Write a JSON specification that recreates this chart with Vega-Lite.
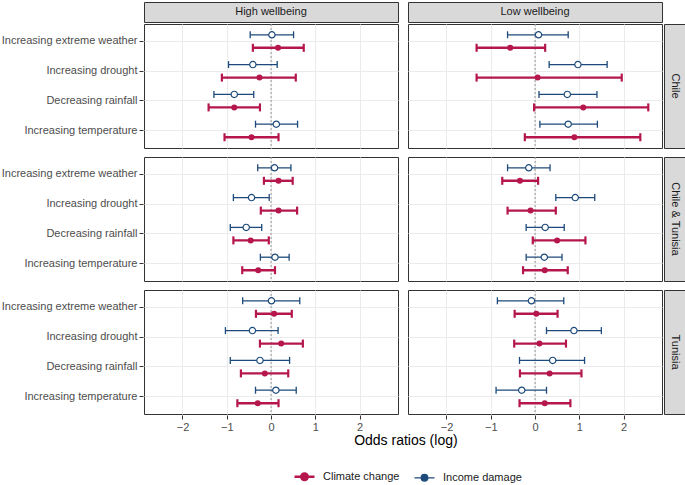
{
  "$schema": "https://vega.github.io/schema/vega-lite/v6.json",
  "padding": {"left": 1, "top": 1, "right": 2, "bottom": 4},
  "background": "white",
  "config": {
    "font": "Liberation Sans",
    "view": {"stroke": "#333333", "strokeWidth": 1},
    "axis": {
      "labelFont": "Liberation Sans",
      "labelFontSize": 11,
      "labelColor": "#4D4D4D",
      "tickColor": "#333333",
      "tickSize": 4,
      "labelPadding": 2,
      "domain": false,
      "gridColor": "#EBEBEB",
      "gridWidth": 1
    }
  },
  "datasets": {
    "est": [
      {"wellbeing": "High wellbeing", "country": "Chile", "measure": "Increasing extreme weather", "series": "Income damage", "est": 0.02, "lo": -0.47, "hi": 0.51},
      {"wellbeing": "High wellbeing", "country": "Chile", "measure": "Increasing extreme weather", "series": "Climate change", "est": 0.16, "lo": -0.41, "hi": 0.74},
      {"wellbeing": "High wellbeing", "country": "Chile", "measure": "Increasing drought", "series": "Income damage", "est": -0.41, "lo": -0.96, "hi": 0.14},
      {"wellbeing": "High wellbeing", "country": "Chile", "measure": "Increasing drought", "series": "Climate change", "est": -0.26, "lo": -1.11, "hi": 0.56},
      {"wellbeing": "High wellbeing", "country": "Chile", "measure": "Decreasing rainfall", "series": "Income damage", "est": -0.83, "lo": -1.29, "hi": -0.39},
      {"wellbeing": "High wellbeing", "country": "Chile", "measure": "Decreasing rainfall", "series": "Climate change", "est": -0.83, "lo": -1.41, "hi": -0.25},
      {"wellbeing": "High wellbeing", "country": "Chile", "measure": "Increasing temperature", "series": "Income damage", "est": 0.12, "lo": -0.35, "hi": 0.6},
      {"wellbeing": "High wellbeing", "country": "Chile", "measure": "Increasing temperature", "series": "Climate change", "est": -0.44, "lo": -1.05, "hi": 0.17},

      {"wellbeing": "Low wellbeing", "country": "Chile", "measure": "Increasing extreme weather", "series": "Income damage", "est": 0.08, "lo": -0.62, "hi": 0.75},
      {"wellbeing": "Low wellbeing", "country": "Chile", "measure": "Increasing extreme weather", "series": "Climate change", "est": -0.56, "lo": -1.32, "hi": 0.23},
      {"wellbeing": "Low wellbeing", "country": "Chile", "measure": "Increasing drought", "series": "Income damage", "est": 0.97, "lo": 0.32, "hi": 1.63},
      {"wellbeing": "Low wellbeing", "country": "Chile", "measure": "Increasing drought", "series": "Climate change", "est": 0.06, "lo": -1.32, "hi": 1.96},
      {"wellbeing": "Low wellbeing", "country": "Chile", "measure": "Decreasing rainfall", "series": "Income damage", "est": 0.73, "lo": 0.09, "hi": 1.4},
      {"wellbeing": "Low wellbeing", "country": "Chile", "measure": "Decreasing rainfall", "series": "Climate change", "est": 1.09, "lo": -0.02, "hi": 2.56},
      {"wellbeing": "Low wellbeing", "country": "Chile", "measure": "Increasing temperature", "series": "Income damage", "est": 0.75, "lo": 0.11, "hi": 1.41},
      {"wellbeing": "Low wellbeing", "country": "Chile", "measure": "Increasing temperature", "series": "Climate change", "est": 0.89, "lo": -0.23, "hi": 2.38},

      {"wellbeing": "High wellbeing", "country": "Chile & Tunisia", "measure": "Increasing extreme weather", "series": "Income damage", "est": 0.08, "lo": -0.3, "hi": 0.45},
      {"wellbeing": "High wellbeing", "country": "Chile & Tunisia", "measure": "Increasing extreme weather", "series": "Climate change", "est": 0.17, "lo": -0.16, "hi": 0.49},
      {"wellbeing": "High wellbeing", "country": "Chile & Tunisia", "measure": "Increasing drought", "series": "Income damage", "est": -0.44, "lo": -0.85, "hi": -0.04},
      {"wellbeing": "High wellbeing", "country": "Chile & Tunisia", "measure": "Increasing drought", "series": "Climate change", "est": 0.17, "lo": -0.23, "hi": 0.59},
      {"wellbeing": "High wellbeing", "country": "Chile & Tunisia", "measure": "Decreasing rainfall", "series": "Income damage", "est": -0.56, "lo": -0.92, "hi": -0.21},
      {"wellbeing": "High wellbeing", "country": "Chile & Tunisia", "measure": "Decreasing rainfall", "series": "Climate change", "est": -0.46, "lo": -0.85, "hi": -0.05},
      {"wellbeing": "High wellbeing", "country": "Chile & Tunisia", "measure": "Increasing temperature", "series": "Income damage", "est": 0.09, "lo": -0.24, "hi": 0.41},
      {"wellbeing": "High wellbeing", "country": "Chile & Tunisia", "measure": "Increasing temperature", "series": "Climate change", "est": -0.29, "lo": -0.65, "hi": 0.09},

      {"wellbeing": "Low wellbeing", "country": "Chile & Tunisia", "measure": "Increasing extreme weather", "series": "Income damage", "est": -0.14, "lo": -0.62, "hi": 0.34},
      {"wellbeing": "Low wellbeing", "country": "Chile & Tunisia", "measure": "Increasing extreme weather", "series": "Climate change", "est": -0.34, "lo": -0.74, "hi": 0.07},
      {"wellbeing": "Low wellbeing", "country": "Chile & Tunisia", "measure": "Increasing drought", "series": "Income damage", "est": 0.91, "lo": 0.47, "hi": 1.35},
      {"wellbeing": "Low wellbeing", "country": "Chile & Tunisia", "measure": "Increasing drought", "series": "Climate change", "est": -0.1, "lo": -0.62, "hi": 0.47},
      {"wellbeing": "Low wellbeing", "country": "Chile & Tunisia", "measure": "Decreasing rainfall", "series": "Income damage", "est": 0.23, "lo": -0.2, "hi": 0.66},
      {"wellbeing": "Low wellbeing", "country": "Chile & Tunisia", "measure": "Decreasing rainfall", "series": "Climate change", "est": 0.5, "lo": -0.05, "hi": 1.14},
      {"wellbeing": "Low wellbeing", "country": "Chile & Tunisia", "measure": "Increasing temperature", "series": "Income damage", "est": 0.21, "lo": -0.2, "hi": 0.61},
      {"wellbeing": "Low wellbeing", "country": "Chile & Tunisia", "measure": "Increasing temperature", "series": "Climate change", "est": 0.22, "lo": -0.27, "hi": 0.74},

      {"wellbeing": "High wellbeing", "country": "Tunisia", "measure": "Increasing extreme weather", "series": "Income damage", "est": 0.01, "lo": -0.64, "hi": 0.65},
      {"wellbeing": "High wellbeing", "country": "Tunisia", "measure": "Increasing extreme weather", "series": "Climate change", "est": 0.07, "lo": -0.34, "hi": 0.47},
      {"wellbeing": "High wellbeing", "country": "Tunisia", "measure": "Increasing drought", "series": "Income damage", "est": -0.42, "lo": -1.03, "hi": 0.16},
      {"wellbeing": "High wellbeing", "country": "Tunisia", "measure": "Increasing drought", "series": "Climate change", "est": 0.23, "lo": -0.25, "hi": 0.72},
      {"wellbeing": "High wellbeing", "country": "Tunisia", "measure": "Decreasing rainfall", "series": "Income damage", "est": -0.25, "lo": -0.92, "hi": 0.42},
      {"wellbeing": "High wellbeing", "country": "Tunisia", "measure": "Decreasing rainfall", "series": "Climate change", "est": -0.14, "lo": -0.68, "hi": 0.39},
      {"wellbeing": "High wellbeing", "country": "Tunisia", "measure": "Increasing temperature", "series": "Income damage", "est": 0.11, "lo": -0.35, "hi": 0.57},
      {"wellbeing": "High wellbeing", "country": "Tunisia", "measure": "Increasing temperature", "series": "Climate change", "est": -0.3, "lo": -0.76, "hi": 0.17},

      {"wellbeing": "Low wellbeing", "country": "Tunisia", "measure": "Increasing extreme weather", "series": "Income damage", "est": -0.08, "lo": -0.85, "hi": 0.65},
      {"wellbeing": "Low wellbeing", "country": "Tunisia", "measure": "Increasing extreme weather", "series": "Climate change", "est": 0.03, "lo": -0.46, "hi": 0.51},
      {"wellbeing": "Low wellbeing", "country": "Tunisia", "measure": "Increasing drought", "series": "Income damage", "est": 0.88, "lo": 0.26, "hi": 1.5},
      {"wellbeing": "Low wellbeing", "country": "Tunisia", "measure": "Increasing drought", "series": "Climate change", "est": 0.1, "lo": -0.47, "hi": 0.7},
      {"wellbeing": "Low wellbeing", "country": "Tunisia", "measure": "Decreasing rainfall", "series": "Income damage", "est": 0.4, "lo": -0.35, "hi": 1.12},
      {"wellbeing": "Low wellbeing", "country": "Tunisia", "measure": "Decreasing rainfall", "series": "Climate change", "est": 0.33, "lo": -0.34, "hi": 1.05},
      {"wellbeing": "Low wellbeing", "country": "Tunisia", "measure": "Increasing temperature", "series": "Income damage", "est": -0.3, "lo": -0.88, "hi": 0.26},
      {"wellbeing": "Low wellbeing", "country": "Tunisia", "measure": "Increasing temperature", "series": "Climate change", "est": 0.22, "lo": -0.35, "hi": 0.8}
    ]
  },
  "spacing": 0,
  "vconcat": [
    {
      "spacing": 8,
      "hconcat": [
        {
          "width": 254, "height": 20,
          "view": {"fill": "#D9D9D9", "stroke": "#333333"},
          "data": {"values": [{"label": "High wellbeing", "pad": "Increasing extreme weather"}]},
          "mark": {"type": "text", "fontSize": 11, "color": "#1A1A1A", "font": "Liberation Sans"},
          "encoding": {
            "text": {"field": "label"},
            "y": {"field": "pad", "type": "nominal", "axis": {"title": null, "labelColor": "transparent", "tickColor": "transparent", "grid": false, "domain": false}}
          }
        },
        {
          "width": 254, "height": 20,
          "view": {"fill": "#D9D9D9", "stroke": "#333333"},
          "data": {"values": [{"label": "Low wellbeing"}]},
          "mark": {"type": "text", "fontSize": 11, "color": "#1A1A1A", "font": "Liberation Sans"},
          "encoding": {"text": {"field": "label"}}
        }
      ]
    },
    {
      "spacing": 0,
      "hconcat": [
        {
          "data": {"name": "est"},
          "title": {"text": "Odds ratios (log)", "orient": "bottom", "anchor": "middle", "frame": "bounds", "dx": 74, "fontSize": 14, "fontWeight": "normal", "color": "#000000", "font": "Liberation Sans", "offset": 2},
          "facet": {
            "row": {"field": "country", "type": "nominal", "sort": ["Chile", "Chile & Tunisia", "Tunisia"], "header": null},
            "column": {"field": "wellbeing", "type": "nominal", "sort": ["High wellbeing", "Low wellbeing"], "header": null}
          },
          "spacing": {"row": 7, "column": 8},
          "spec": {
            "width": 254, "height": 124,
            "layer": [
              {
                "transform": [{"filter": "datum.measure === 'Increasing extreme weather' && datum.series === 'Climate change'"}],
                "mark": {"type": "rule", "strokeDash": [2, 2], "color": "#7F7F7F", "strokeWidth": 0.8},
                "encoding": {
                  "x": {"datum": 0, "type": "quantitative", "title": null}
                }
              },
              {
                "transform": [{"filter": "datum.series === 'Climate change'"}],
                "mark": {"type": "rule", "strokeWidth": 2.4},
                "encoding": {
                  "x": {
                    "field": "lo", "type": "quantitative", "title": null,
                    "scale": {"domain": [-2.87, 2.87], "nice": false, "zero": false},
                    "axis": {"title": null, "grid": true, "values": [-2, -1, 0, 1, 2]}
                  },
                  "x2": {"field": "hi"},
                  "y": {"field": "measure", "type": "nominal", "sort": ["Increasing extreme weather", "Increasing drought", "Decreasing rainfall", "Increasing temperature"], "scale": {"paddingInner": 0, "paddingOuter": 0.08}, "axis": {"title": null, "grid": true}},
                  "yOffset": {"field": "series", "type": "nominal", "sort": ["Income damage", "Climate change"], "scale": {"paddingInner": 0, "paddingOuter": 0.146}},
                  "color": {
                    "field": "series", "type": "nominal",
                    "scale": {"domain": ["Climate change", "Income damage"], "range": ["#B5164B", "#1D4A7A"]},
                    "legend": {
                      "title": null, "orient": "none", "direction": "horizontal",
                      "legendX": 155, "legendY": 469,
                      "labelFontSize": 11, "labelColor": "#1A1A1A", "labelFont": "Liberation Sans",
                      "symbolType": "M-1,0L-0.33,0M0.33,0L1,0M0.33,0A0.33,0.33,0,1,1,-0.33,0A0.33,0.33,0,1,1,0.33,0",
                      "symbolSize": 400, "columnPadding": 11, "labelOffset": 13,
                      "encode": {
                        "symbols": {
                          "update": {
                            "fill": {"signal": "datum.value === 'Climate change' ? '#B5164B' : '#FFFFFF'"},
                            "stroke": {"signal": "datum.value === 'Climate change' ? '#B5164B' : '#1D4A7A'"},
                            "strokeWidth": {"signal": "datum.value === 'Climate change' ? 2.4 : 1.3"},
                            "opacity": {"value": 1},
                            "fillOpacity": {"value": 1}
                          }
                        }
                      }
                    }
                  }
                }
              },
              {
                "transform": [{"filter": "datum.series === 'Climate change'"}],
                "mark": {"type": "tick", "thickness": 2.2, "size": 8, "opacity": 1},
                "encoding": {
                  "x": {"field": "lo", "type": "quantitative", "title": null},
                  "y": {"field": "measure", "type": "nominal", "sort": ["Increasing extreme weather", "Increasing drought", "Decreasing rainfall", "Increasing temperature"]},
                  "yOffset": {"field": "series", "type": "nominal", "sort": ["Income damage", "Climate change"]},
                  "color": {"field": "series", "type": "nominal"}
                }
              },
              {
                "transform": [{"filter": "datum.series === 'Climate change'"}],
                "mark": {"type": "tick", "thickness": 2.2, "size": 8, "opacity": 1},
                "encoding": {
                  "x": {"field": "hi", "type": "quantitative", "title": null},
                  "y": {"field": "measure", "type": "nominal", "sort": ["Increasing extreme weather", "Increasing drought", "Decreasing rainfall", "Increasing temperature"]},
                  "yOffset": {"field": "series", "type": "nominal", "sort": ["Income damage", "Climate change"]},
                  "color": {"field": "series", "type": "nominal"}
                }
              },
              {
                "transform": [{"filter": "datum.series === 'Climate change'"}],
                "mark": {"type": "point", "filled": true, "size": 36, "opacity": 1},
                "encoding": {
                  "x": {"field": "est", "type": "quantitative", "title": null},
                  "y": {"field": "measure", "type": "nominal", "sort": ["Increasing extreme weather", "Increasing drought", "Decreasing rainfall", "Increasing temperature"]},
                  "yOffset": {"field": "series", "type": "nominal", "sort": ["Income damage", "Climate change"]},
                  "color": {"field": "series", "type": "nominal"}
                }
              },
              {
                "transform": [{"filter": "datum.series === 'Income damage'"}],
                "mark": {"type": "rule", "strokeWidth": 1.3},
                "encoding": {
                  "x": {"field": "lo", "type": "quantitative", "title": null},
                  "x2": {"field": "hi"},
                  "y": {"field": "measure", "type": "nominal", "sort": ["Increasing extreme weather", "Increasing drought", "Decreasing rainfall", "Increasing temperature"]},
                  "yOffset": {"field": "series", "type": "nominal", "sort": ["Income damage", "Climate change"]},
                  "color": {"field": "series", "type": "nominal"}
                }
              },
              {
                "transform": [{"filter": "datum.series === 'Income damage'"}],
                "mark": {"type": "tick", "thickness": 1.3, "size": 7, "opacity": 1},
                "encoding": {
                  "x": {"field": "lo", "type": "quantitative", "title": null},
                  "y": {"field": "measure", "type": "nominal", "sort": ["Increasing extreme weather", "Increasing drought", "Decreasing rainfall", "Increasing temperature"]},
                  "yOffset": {"field": "series", "type": "nominal", "sort": ["Income damage", "Climate change"]},
                  "color": {"field": "series", "type": "nominal"}
                }
              },
              {
                "transform": [{"filter": "datum.series === 'Income damage'"}],
                "mark": {"type": "tick", "thickness": 1.3, "size": 7, "opacity": 1},
                "encoding": {
                  "x": {"field": "hi", "type": "quantitative", "title": null},
                  "y": {"field": "measure", "type": "nominal", "sort": ["Increasing extreme weather", "Increasing drought", "Decreasing rainfall", "Increasing temperature"]},
                  "yOffset": {"field": "series", "type": "nominal", "sort": ["Income damage", "Climate change"]},
                  "color": {"field": "series", "type": "nominal"}
                }
              },
              {
                "transform": [{"filter": "datum.series === 'Income damage'"}],
                "mark": {"type": "point", "filled": false, "fill": "#FFFFFF", "size": 40, "strokeWidth": 1.2, "opacity": 1},
                "encoding": {
                  "x": {"field": "est", "type": "quantitative", "title": null},
                  "y": {"field": "measure", "type": "nominal", "sort": ["Increasing extreme weather", "Increasing drought", "Decreasing rainfall", "Increasing temperature"]},
                  "yOffset": {"field": "series", "type": "nominal", "sort": ["Income damage", "Climate change"]},
                  "color": {"field": "series", "type": "nominal"}
                }
              }
            ]
          }
        },
        {
          "spacing": 7,
          "vconcat": [
            {
              "width": 21, "height": 124,
              "view": {"fill": "#D9D9D9", "stroke": "#333333"},
              "data": {"values": [{"label": "Chile"}]},
              "mark": {"type": "text", "fontSize": 11, "color": "#1A1A1A", "angle": 90, "font": "Liberation Sans"},
              "encoding": {"text": {"field": "label"}}
            },
            {
              "width": 21, "height": 124,
              "view": {"fill": "#D9D9D9", "stroke": "#333333"},
              "data": {"values": [{"label": "Chile & Tunisia"}]},
              "mark": {"type": "text", "fontSize": 11, "color": "#1A1A1A", "angle": 90, "font": "Liberation Sans"},
              "encoding": {"text": {"field": "label"}}
            },
            {
              "width": 21, "height": 124,
              "view": {"fill": "#D9D9D9", "stroke": "#333333"},
              "data": {"values": [{"label": "Tunisia"}]},
              "mark": {"type": "text", "fontSize": 11, "color": "#1A1A1A", "angle": 90, "font": "Liberation Sans"},
              "encoding": {"text": {"field": "label"}}
            }
          ]
        }
      ]
    }
  ]
}
